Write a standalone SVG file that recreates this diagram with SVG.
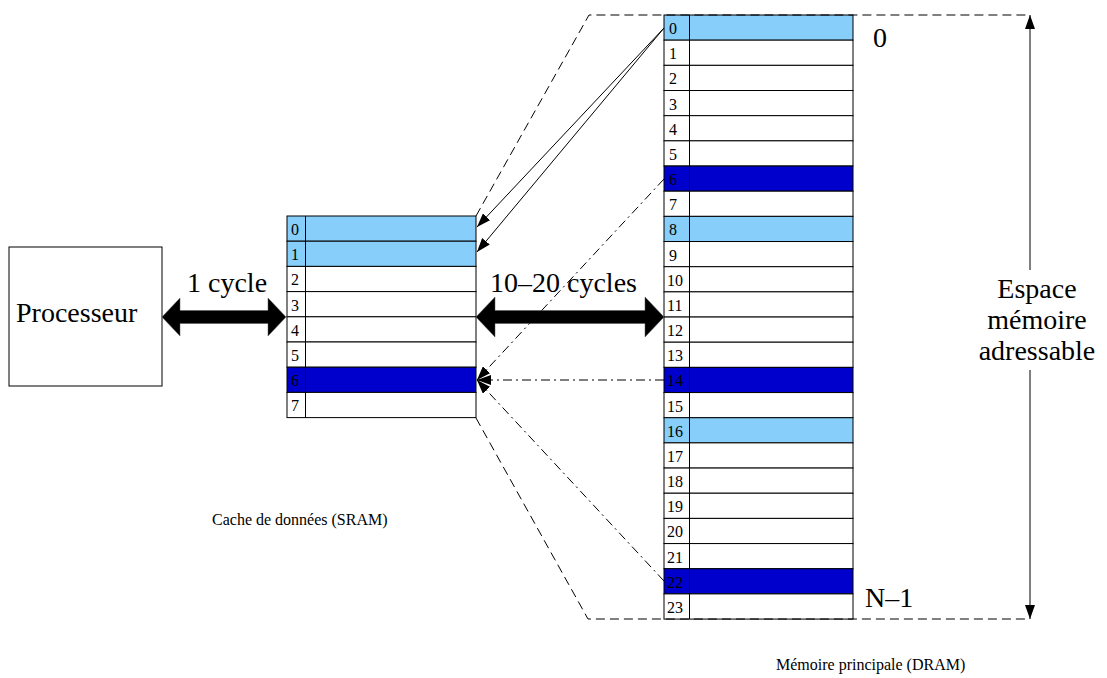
<svg xmlns="http://www.w3.org/2000/svg" width="1107" height="678" viewBox="0 0 1107 678">
<style>
  .t { font-family: "Liberation Serif", "Times New Roman", serif; fill: #000; }
  .big { font-size: 28px; }
  .lbl { font-size: 16px; }
  .idx { font-size: 16px; }
  .cell { fill: #fff; stroke: #000; stroke-width: 1; }
  .lb { fill: #87CEFA; stroke: #000; stroke-width: 1; }
  .db { fill: #0000CD; stroke: #000; stroke-width: 1; }
  .dash { fill: none; stroke: #000; stroke-width: 1; stroke-dasharray: 9 5; }
  .dd { fill: none; stroke: #000; stroke-width: 1; stroke-dasharray: 9 4 2 4; }
  .sol { fill: none; stroke: #000; stroke-width: 1; }
</style>
<defs>
  <marker id="ah" markerWidth="14" markerHeight="10" refX="14" refY="5" orient="auto" markerUnits="userSpaceOnUse">
    <path d="M0,0 L14,5 L0,10 z" fill="#000"/>
  </marker>
</defs>

<g id="processeur">
  <rect x="9" y="247" width="153" height="139" fill="#fff" stroke="#000" stroke-width="1"/>
  <text class="t big" x="16" y="322">Processeur</text>
</g>

<g id="cache">
  <rect class="lb" x="287" y="216" width="189" height="25.2"/>
  <rect class="lb" x="287" y="241.2" width="189" height="25.2"/>
  <rect class="cell" x="287" y="266.4" width="189" height="25.2"/>
  <rect class="cell" x="287" y="291.6" width="189" height="25.2"/>
  <rect class="cell" x="287" y="316.8" width="189" height="25.2"/>
  <rect class="cell" x="287" y="342" width="189" height="25.2"/>
  <rect class="db" x="287" y="367.2" width="189" height="25.2"/>
  <rect class="cell" x="287" y="392.4" width="189" height="25.2"/>
  <line x1="305.5" y1="216" x2="305.5" y2="417.6" stroke="#000" stroke-width="1"/>
  <g class="t idx">
    <text x="291" y="235">0</text>
    <text x="291" y="260.2">1</text>
    <text x="291" y="285.4">2</text>
    <text x="291" y="310.6">3</text>
    <text x="291" y="335.8">4</text>
    <text x="291" y="361">5</text>
    <text x="291" y="386.2">6</text>
    <text x="291" y="411.4">7</text>
  </g>
  <text class="t lbl" x="212" y="525">Cache de données (SRAM)</text>
</g>

<g id="memoire">
  <g>
    <rect class="lb" x="664" y="15" width="189" height="25.17"/>
    <rect class="cell" x="664" y="40.17" width="189" height="25.17"/>
    <rect class="cell" x="664" y="65.34" width="189" height="25.17"/>
    <rect class="cell" x="664" y="90.51" width="189" height="25.17"/>
    <rect class="cell" x="664" y="115.68" width="189" height="25.17"/>
    <rect class="cell" x="664" y="140.85" width="189" height="25.17"/>
    <rect class="db" x="664" y="166.02" width="189" height="25.17"/>
    <rect class="cell" x="664" y="191.19" width="189" height="25.17"/>
    <rect class="lb" x="664" y="216.36" width="189" height="25.17"/>
    <rect class="cell" x="664" y="241.53" width="189" height="25.17"/>
    <rect class="cell" x="664" y="266.7" width="189" height="25.17"/>
    <rect class="cell" x="664" y="291.87" width="189" height="25.17"/>
    <rect class="cell" x="664" y="317.04" width="189" height="25.17"/>
    <rect class="cell" x="664" y="342.21" width="189" height="25.17"/>
    <rect class="db" x="664" y="367.38" width="189" height="25.17"/>
    <rect class="cell" x="664" y="392.55" width="189" height="25.17"/>
    <rect class="lb" x="664" y="417.72" width="189" height="25.17"/>
    <rect class="cell" x="664" y="442.89" width="189" height="25.17"/>
    <rect class="cell" x="664" y="468.06" width="189" height="25.17"/>
    <rect class="cell" x="664" y="493.23" width="189" height="25.17"/>
    <rect class="cell" x="664" y="518.4" width="189" height="25.17"/>
    <rect class="cell" x="664" y="543.57" width="189" height="25.17"/>
    <rect class="db" x="664" y="568.74" width="189" height="25.17"/>
    <rect class="cell" x="664" y="593.91" width="189" height="25.17"/>
    <line x1="689.5" y1="15" x2="689.5" y2="619" stroke="#000" stroke-width="1"/>
  </g>
  <g class="t idx">
    <text x="669" y="34">0</text>
    <text x="669" y="59.2">1</text>
    <text x="669" y="84.3">2</text>
    <text x="669" y="109.5">3</text>
    <text x="669" y="134.7">4</text>
    <text x="669" y="159.9">5</text>
    <text x="669" y="185">6</text>
    <text x="669" y="210.2">7</text>
    <text x="669" y="235.4">8</text>
    <text x="669" y="260.5">9</text>
    <text x="667" y="285.7">10</text>
    <text x="667" y="310.9">11</text>
    <text x="667" y="336">12</text>
    <text x="667" y="361.2">13</text>
    <text x="667" y="386.4">14</text>
    <text x="667" y="411.6">15</text>
    <text x="667" y="436.7">16</text>
    <text x="667" y="461.9">17</text>
    <text x="667" y="487.1">18</text>
    <text x="667" y="512.2">19</text>
    <text x="667" y="537.4">20</text>
    <text x="667" y="562.6">21</text>
    <text x="667" y="587.7">22</text>
    <text x="667" y="612.9">23</text>
  </g>
  <text class="t big" x="873" y="47">0</text>
  <text class="t big" x="865" y="607">N–1</text>
  <text class="t lbl" x="776" y="670">Mémoire principale (DRAM)</text>
</g>

<g id="espace">
  <text class="t big" x="1037" y="298" text-anchor="middle">Espace</text>
  <text class="t big" x="1037" y="329" text-anchor="middle">mémoire</text>
  <text class="t big" x="1037" y="360" text-anchor="middle">adressable</text>
</g>

<g id="connecteurs">
  <path class="dash" d="M476,216 L589,15 L1030,15"/>
  <path class="dash" d="M476,418 L588,619 L1030,619"/>
  <line class="sol" x1="1030" y1="270" x2="1030" y2="15" marker-end="url(#ah)"/>
  <line class="sol" x1="1030" y1="370" x2="1030" y2="619" marker-end="url(#ah)"/>
  <line class="sol" x1="664" y1="28" x2="477" y2="227" marker-end="url(#ah)"/>
  <line class="sol" x1="664" y1="28" x2="477" y2="252" marker-end="url(#ah)"/>
  <line class="dd" x1="664" y1="179" x2="477" y2="380" marker-end="url(#ah)"/>
  <line class="dd" x1="664" y1="380" x2="477" y2="380" marker-end="url(#ah)"/>
  <line class="dd" x1="664" y1="581" x2="477" y2="380" marker-end="url(#ah)"/>
  <polygon points="162,317 180,298 180,310.5 268,310.5 268,298 286,317 268,336 268,323.5 180,323.5 180,336" fill="#000" stroke="#555" stroke-width="0.5"/>
  <polygon points="476,317 495,297 495,310.5 645,310.5 645,297 664,317 645,337 645,323.5 495,323.5 495,337" fill="#000" stroke="#555" stroke-width="0.5"/>
  <text class="t big" x="187" y="292">1 cycle</text>
  <text class="t big" x="490" y="292" font-size="29">10–20 cycles</text>
</g>
</svg>
